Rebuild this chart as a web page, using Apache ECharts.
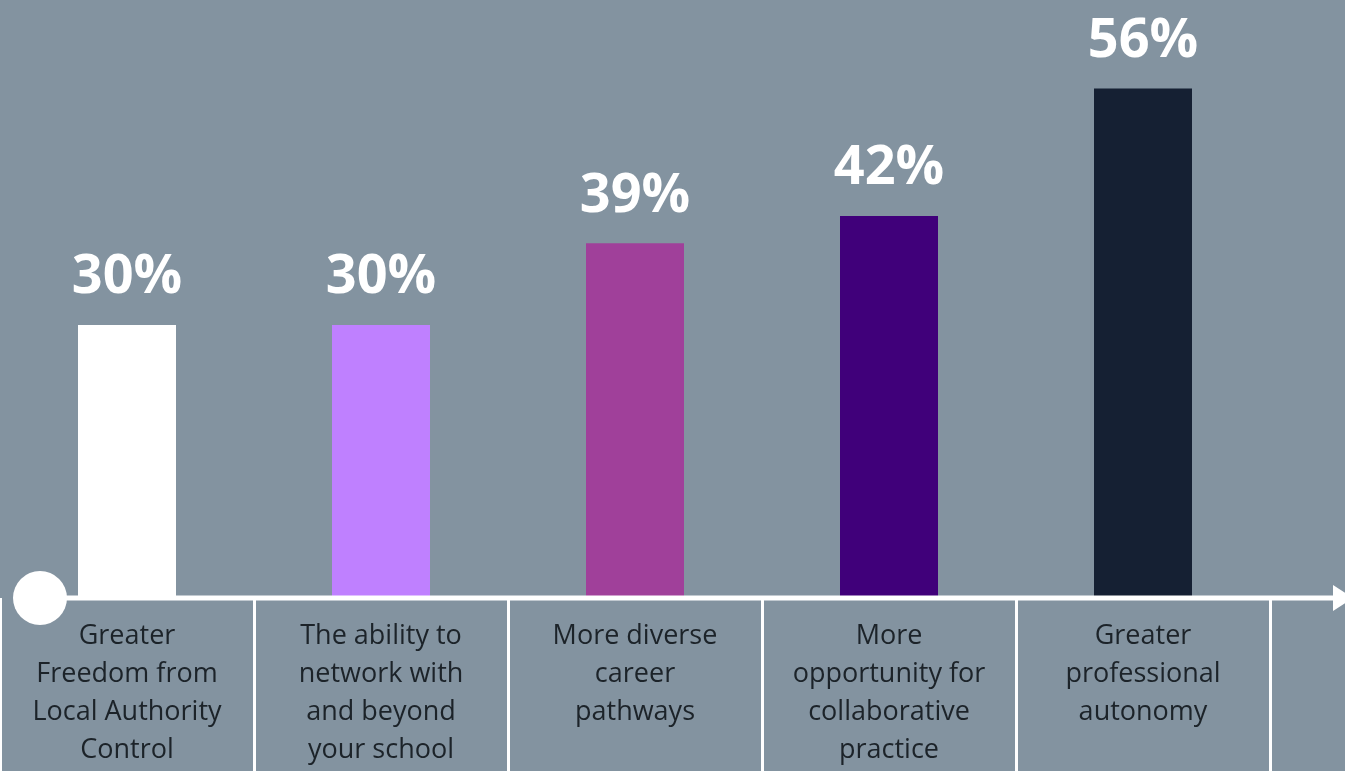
<!DOCTYPE html>
<html>
<head>
<meta charset="utf-8">
<title>Perceived benefits</title>
<script src="https://cdn.jsdelivr.net/npm/echarts@6/dist/echarts.min.js"></script>
<style>
  html, body { margin: 0; padding: 0; background: #8393a0; }
  #chart { width: 1345px; height: 771px; }
</style>
</head>
<body>
<div id="chart"></div>
<script>
// Survey categories and the share of respondents choosing each one
const categories = [
  'Greater\nFreedom from\nLocal Authority\nControl',
  'The ability to\nnetwork with\nand beyond\nyour school',
  'More diverse\ncareer\npathways',
  'More\nopportunity for\ncollaborative\npractice',
  'Greater\nprofessional\nautonomy'
];
const percentages = [30, 30, 39, 42, 56];
const barColors = ['#ffffff', '#bf80ff', '#a0409a', '#40007a', '#152033'];

const chart = echarts.init(document.getElementById('chart'), null, { renderer: 'canvas' });

const axisY = 598;   // baseline of the horizontal axis (px)
const W = 1345, H = 771;

chart.setOption({
  backgroundColor: '#8393a0',
  animation: false,
  grid: { left: 0, right: 75, top: 34, bottom: H - axisY, containLabel: false },
  xAxis: {
    type: 'category',
    data: categories,
    boundaryGap: true,
    axisLine: { show: false },
    axisTick: {
      show: true,
      length: H - axisY + 5,
      lineStyle: { color: '#ffffff', width: 3 }
    },
    axisLabel: {
      interval: 0,
      margin: 19,
      color: '#1c2329',
      fontFamily: 'Open Sans',
      fontSize: 27,
      lineHeight: 38,
      align: 'center'
    },
    splitLine: { show: false }
  },
  yAxis: {
    type: 'value',
    min: 0,
    max: 62,
    show: false,
    splitLine: { show: false }
  },
  series: [{
    type: 'bar',
    barWidth: 98,
    data: percentages.map((v, i) => ({ value: v, itemStyle: { color: barColors[i] } })),
    label: {
      show: true,
      position: 'top',
      distance: 20,
      formatter: '{c}%',
      color: '#ffffff',
      fontFamily: 'Open Sans',
      fontWeight: 'bold',
      fontSize: 54
    }
  }],
  graphic: [
    {
      type: 'line',
      shape: { x1: 40, y1: axisY, x2: W - 8, y2: axisY },
      style: { stroke: '#ffffff', lineWidth: 5 },
      z: 10
    },
    {
      type: 'polygon',
      shape: { points: [[W - 12, axisY - 13], [W + 8, axisY], [W - 12, axisY + 13]] },
      style: { fill: '#ffffff' },
      z: 10
    },
    {
      type: 'circle',
      shape: { cx: 40, cy: axisY, r: 27 },
      style: { fill: '#ffffff' },
      z: 11
    }
  ]
});
</script>
</body>
</html>
